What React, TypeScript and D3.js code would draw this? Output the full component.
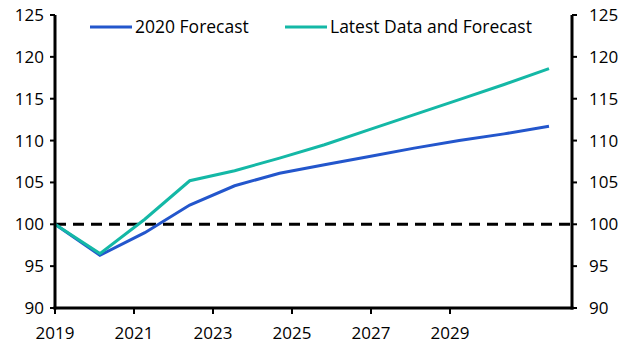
import React from "react";
import * as d3 from "d3";

const years = [2019, 2020, 2021, 2022, 2023, 2024, 2025, 2026, 2027, 2028, 2029, 2030];
const forecast2020 = [100, 96.3, 99.0, 102.3, 104.6, 106.1, 107.1, 108.1, 109.1, 110.0, 110.8, 111.7];
const latest = [100, 96.5, 100.6, 105.2, 106.4, 107.9, 109.5, 111.3, 113.1, 114.9, 116.7, 118.6];
const yTicks = [90, 95, 100, 105, 110, 115, 120, 125];
const xTickLabels = [2019, 2021, 2023, 2025, 2027, 2029];
const seriesNames = ["2020 Forecast", "Latest Data and Forecast"];

const W = 631, H = 355;
const left = 55, right = 572, top = 15, bottom = 308;
const BLUE = "#2356cc";
const TEAL = "#14b8a6";
const FONT = "'Open Sans', sans-serif";

export default function App() {
  const y = d3.scaleLinear().domain([90, 125]).range([bottom, top]);
  const xData = d3.scaleLinear().domain([2019, 2030]).range([left, 549]);
  const xTick = d3.scaleLinear().domain([2019, 2029]).range([left, 450]);
  const line = d3.line<number>().x((_, i) => xData(years[i])).y((d) => y(d));
  const series = [
    { name: seriesNames[0], data: forecast2020, color: BLUE },
    { name: seriesNames[1], data: latest, color: TEAL },
  ];
  const legendX = [90, 285];
  return (
    <svg width={W} height={H} style={{ position: "absolute", left: 0, top: 0, background: "#fff" }}>
      <line x1={left} x2={right} y1={y(100)} y2={y(100)} stroke="#000" strokeWidth={3} strokeDasharray="11 7" />
      {series.map((s) => (
        <path key={s.name} d={line(s.data) || ""} fill="none" stroke={s.color} strokeWidth={3} strokeLinejoin="miter" />
      ))}
      <line x1={left} x2={left} y1={top} y2={bottom + 1.5} stroke="#000" strokeWidth={3} />
      <line x1={right} x2={right} y1={top} y2={bottom + 1.5} stroke="#000" strokeWidth={3} />
      <line x1={left - 1.5} x2={right + 1.5} y1={bottom} y2={bottom} stroke="#000" strokeWidth={3} />
      {yTicks.map((t) => (
        <g key={t}>
          <line x1={left - 5} x2={left} y1={y(t)} y2={y(t)} stroke="#000" strokeWidth={2} />
          <line x1={right} x2={right + 5} y1={y(t)} y2={y(t)} stroke="#000" strokeWidth={2} />
          <text x={44} y={y(t)} dy="0.35em" textAnchor="end" fontFamily={FONT} fontSize={17} fill="#000">{t}</text>
          <text x={589} y={y(t)} dy="0.35em" textAnchor="start" fontFamily={FONT} fontSize={17} fill="#000">{t}</text>
        </g>
      ))}
      {xTickLabels.map((t) => (
        <g key={t}>
          <line x1={xTick(t)} x2={xTick(t)} y1={bottom} y2={bottom + 6} stroke="#000" strokeWidth={2} />
          <text x={xTick(t)} y={339} textAnchor="middle" fontFamily={FONT} fontSize={17} fill="#000">{t}</text>
        </g>
      ))}
      {series.map((s, i) => (
        <g key={s.name}>
          <line x1={legendX[i]} x2={legendX[i] + 42} y1={27} y2={27} stroke={s.color} strokeWidth={3} />
          <text x={legendX[i] + 45} y={27} dy="0.35em" fontFamily={FONT} fontSize={17.5} fill="#000">{s.name}</text>
        </g>
      ))}
    </svg>
  );
}
